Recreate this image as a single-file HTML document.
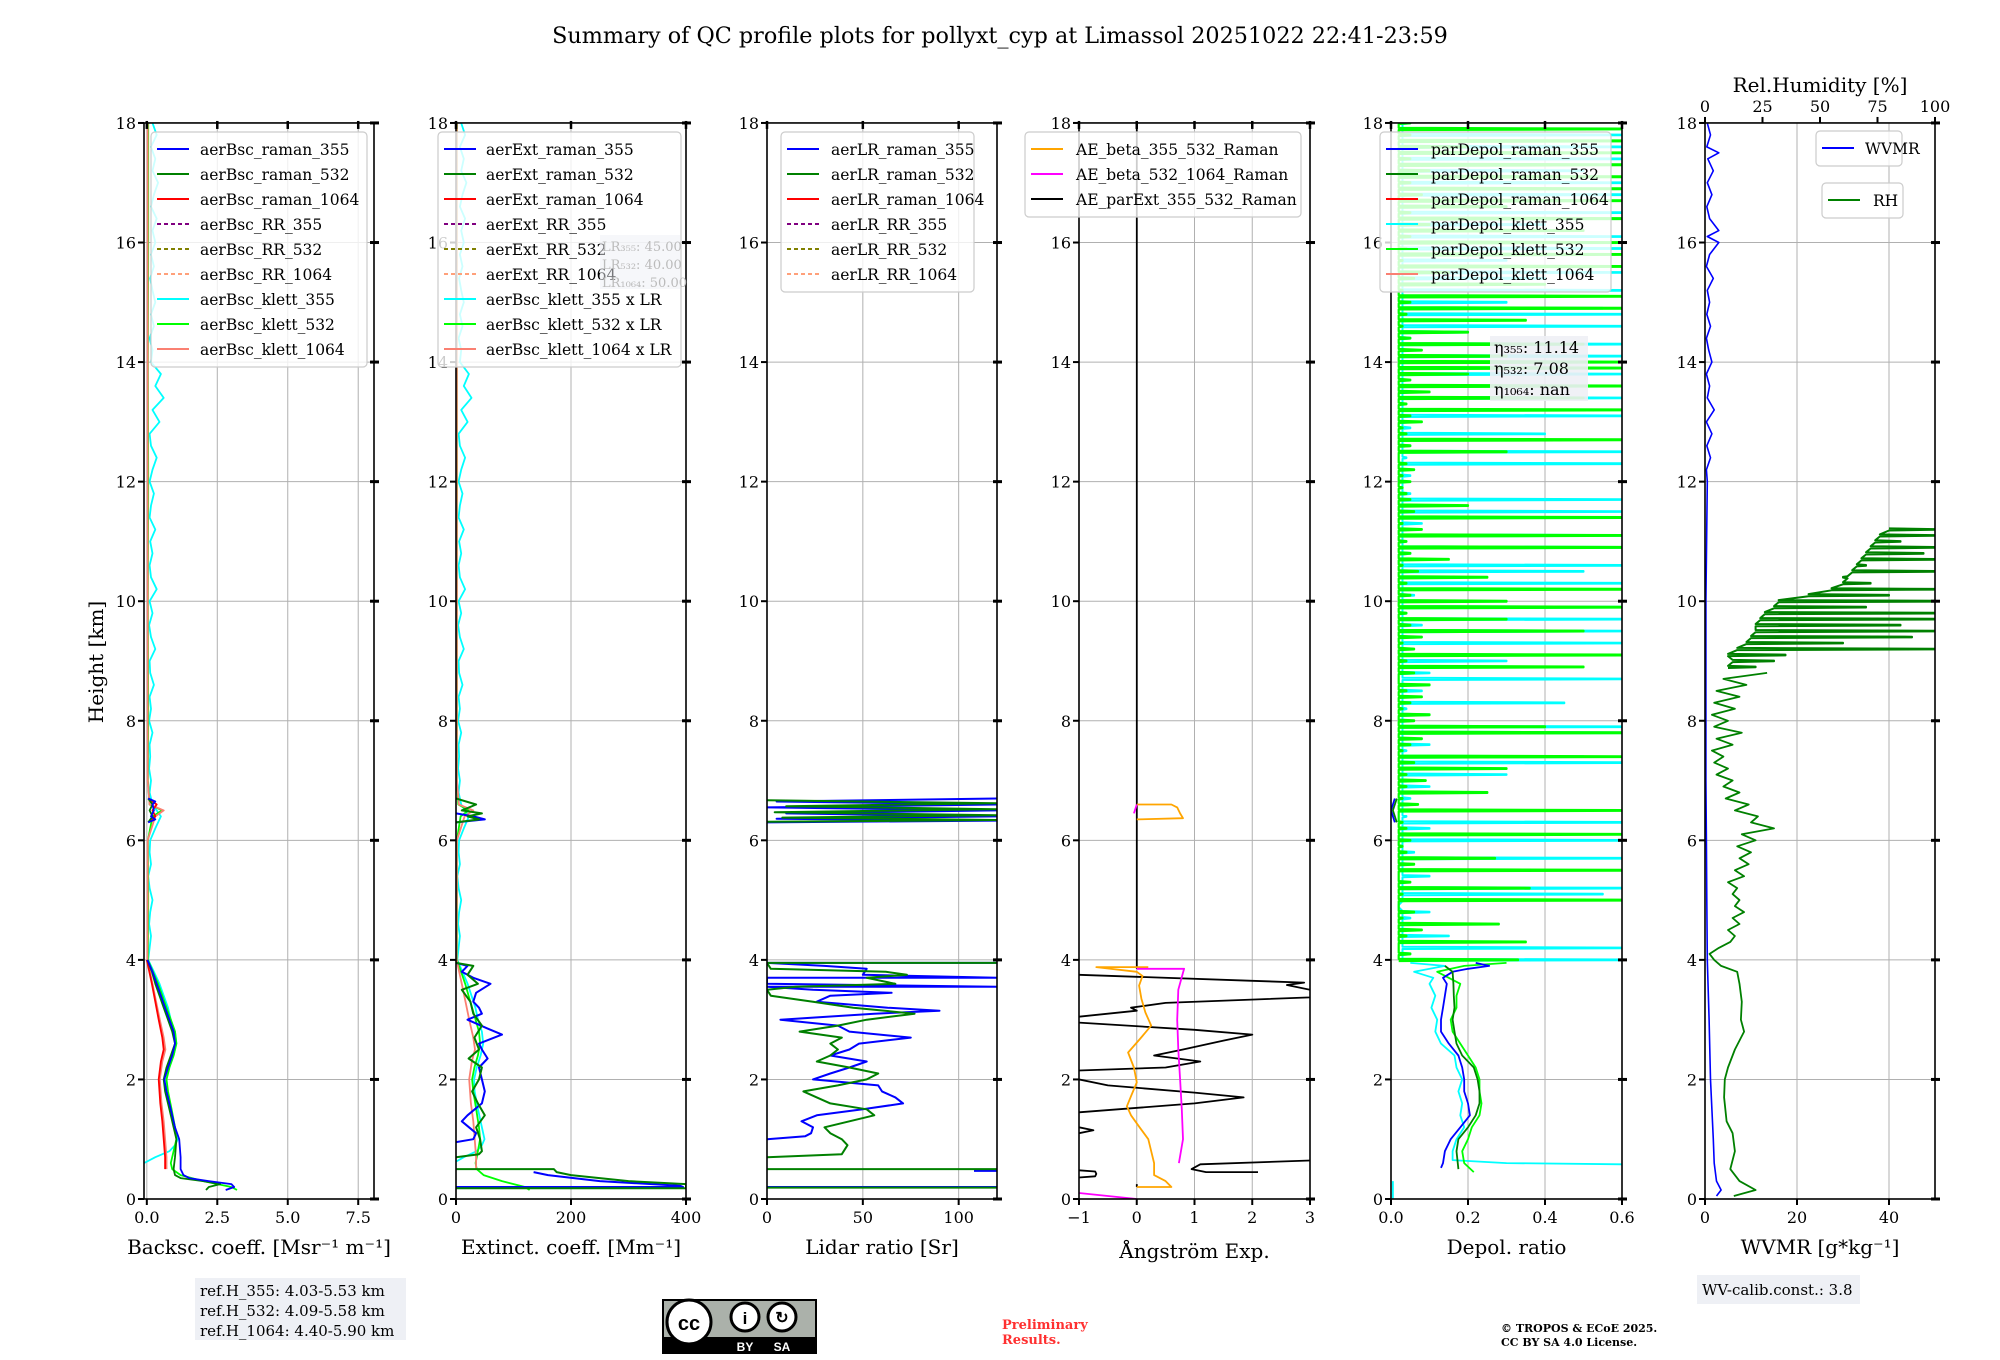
<!DOCTYPE html>
<html><head><meta charset="utf-8"><title>QC profile plots</title>
<style>
html,body{margin:0;padding:0;background:#fff;}
svg{display:block;font-family:"DejaVu Serif","Liberation Serif",serif;}
</style></head>
<body>
<svg id="chart" width="2000" height="1360" viewBox="0 0 2000 1360" xmlns="http://www.w3.org/2000/svg">
<rect x="0" y="0" width="2000" height="1360" fill="#fff"/>
<text x="1000" y="43" font-size="22.3" text-anchor="middle">Summary of QC profile plots for pollyxt_cyp at Limassol 20251022 22:41-23:59</text>
<text x="103" y="662" font-size="20" text-anchor="middle" transform="rotate(-90 103 662)">Height [km]</text>
<g id="plots"></g>
<rect x="195" y="1278" width="211" height="62" fill="#eef0f5"/>
<text x="200" y="1296" font-size="15">ref.H_355: 4.03-5.53 km</text>
<text x="200" y="1316" font-size="15">ref.H_532: 4.09-5.58 km</text>
<text x="200" y="1336" font-size="15">ref.H_1064: 4.40-5.90 km</text>
<rect x="1697" y="1275" width="163" height="29" fill="#eef0f5"/>
<text x="1702" y="1295" font-size="15">WV-calib.const.: 3.8</text>
<g>
<rect x="662" y="1299" width="155" height="55" fill="#000"/>
<rect x="664" y="1301" width="151" height="36" fill="#abb1aa"/>
<circle cx="689" cy="1322" r="22" fill="#fff" stroke="#000" stroke-width="3"/>
<text x="689" y="1330" font-size="20" font-weight="bold" text-anchor="middle" font-family="Liberation Sans, sans-serif">cc</text>
<circle cx="745" cy="1317" r="14" fill="#fff" stroke="#000" stroke-width="3"/>
<text x="745" y="1324" font-size="17" font-weight="bold" text-anchor="middle" font-family="Liberation Sans, sans-serif">i</text>
<circle cx="782" cy="1317" r="14" fill="#fff" stroke="#000" stroke-width="3"/>
<text x="782" y="1323" font-size="16" font-weight="bold" text-anchor="middle" font-family="Liberation Sans, sans-serif">↻</text>
<text x="745" y="1351" font-size="12" font-weight="bold" fill="#fff" text-anchor="middle" font-family="Liberation Sans, sans-serif">BY</text>
<text x="782" y="1351" font-size="12" font-weight="bold" fill="#fff" text-anchor="middle" font-family="Liberation Sans, sans-serif">SA</text>
</g>
<text x="1002" y="1329" font-size="13" font-weight="bold" fill="#ff3030">Preliminary</text>
<text x="1002" y="1344" font-size="13" font-weight="bold" fill="#ff3030">Results.</text>
<text x="1501" y="1332" font-size="11" font-weight="bold">© TROPOS &amp; ECoE 2025.</text>
<text x="1501" y="1346" font-size="11" font-weight="bold">CC BY SA 4.0 License.</text>
</svg>
<script>
// ---------- DATA ----------
const yTicks=[0,2,4,6,8,10,12,14,16,18];
const bscTicks=[0,2.5,5,7.5], bscTickLabels=["0.0","2.5","5.0","7.5"];
const extTicks=[0,200,400], extTickLabels=["0","200","400"];
const lrTicks=[0,50,100], lrTickLabels=["0","50","100"];
const aeTicks=[-1,0,1,2,3], aeTickLabels=["\u22121","0","1","2","3"];
const dpTicks=[0,0.2,0.4,0.6], dpTickLabels=["0.0","0.2","0.4","0.6"];
const wvTicks=[0,20,40], wvTickLabels=["0","20","40"];
const rhTicks=[0,25,50,75,100], rhTickLabels=["0","25","50","75","100"];
const lrConst355=45, lrConst532=40, lrConst1064=50;

const bscR355H=[0.15,0.2,0.25,0.3,0.35,0.4,0.5,0.7,1.0,1.2,1.5,1.8,2.0,2.2,2.4,2.6,2.8,3.0,3.2,3.4,3.6,3.8,4.0,null,6.3,6.35,6.4,6.5,6.6,6.65,6.7];
const bscR355V=[2.8,3.1,3.0,2.2,1.5,1.3,1.2,1.2,1.15,1.0,0.85,0.7,0.62,0.75,0.9,1.0,0.95,0.8,0.65,0.5,0.35,0.2,0.02,null,0.05,0.3,0.15,0.25,0.2,0.3,0.05];
const bscR532H=[0.15,0.2,0.25,0.3,0.35,0.4,0.5,0.7,1.0,1.2,1.5,1.8,2.0,2.2,2.4,2.6,2.8,3.0,3.2,3.4,3.6,3.8,4.0,null,6.3,6.4,6.5,6.6,6.7];
const bscR532V=[2.1,2.2,2.6,2.0,1.2,1.0,0.95,1.0,1.05,0.95,0.8,0.65,0.6,0.7,0.85,1.0,0.9,0.75,0.6,0.45,0.3,0.18,0.02,null,0.05,0.2,0.1,0.2,0.05];
const bscR1064H=[0.5,0.7,1.0,1.3,1.6,2.0,2.3,2.5,2.7,3.0,3.3,3.6,4.0,null,6.3,6.4,6.5,6.6,6.7];
const bscR1064V=[0.65,0.65,0.6,0.55,0.48,0.42,0.5,0.6,0.55,0.42,0.3,0.18,0.0,null,0.05,0.3,0.2,0.35,0.05];
const bscK355H=[0.6,0.7,0.8,0.9,1.0,1.2,1.5,1.8,2.0,2.2,2.4,2.6,2.8,3.0,3.2,3.4,3.6,3.8,4.0,4.2,4.4,4.6,4.8,5.0,5.2,5.4,5.6,5.8,6.0,6.2,6.4,6.6,6.8,7.0,7.2,7.4,7.6,7.8,8.0,8.2,8.4,8.6,8.8,9.0,9.2,9.4,9.6,9.8,10.0,10.2,10.4,10.6,10.8,11.0,11.2,11.4,11.6,11.8,12.0,12.2,12.4,12.6,12.8,13.0,13.2,13.4,13.6,13.8,14.0,14.2,14.4,14.6,14.8,15.0,15.2,15.4,15.6,15.8,16.0,16.2,16.4,16.6,16.8,17.0,17.2,17.4,17.6,17.8,18.0];
const bscK355V=[-0.1,0.3,0.8,1.0,1.1,1.0,0.85,0.72,0.7,0.8,0.95,1.05,1.0,0.85,0.75,0.6,0.45,0.25,0.05,
0.1,0.15,0.08,0.12,0.2,0.1,0.05,0.15,0.1,0.12,
0.3,0.5,0.2,0.1,0.15,0.08,0.12,0.1,0.2,0.08,
0.15,0.1,0.25,0.12,0.1,0.3,0.15,0.08,0.2,0.1,
0.35,0.15,0.1,0.2,0.12,0.3,0.1,0.15,0.25,0.1,
0.2,0.35,0.15,0.1,0.45,0.2,0.6,0.3,0.5,0.15,
0.2,0.1,0.25,0.15,0.3,0.2,0.12,0.25,0.15,0.3,
0.2,0.35,0.15,0.25,0.4,0.2,0.3,0.15,0.35,0.2];
const bscK532H=[0.15,0.2,0.3,0.4,0.5,0.6,0.8,1.0,1.2,1.5,1.8,2.0,2.2,2.4,2.6,2.8,3.0,3.2,3.4,3.6,3.8,4.0,5.0,6.0,6.4,6.5,6.6,7.0,8.0,10.0,12.0,14.0,16.0,18.0];
const bscK532V=[3.2,3.0,2.0,1.2,0.9,0.85,0.95,1.05,1.0,0.88,0.75,0.7,0.8,0.95,1.05,1.0,0.85,0.7,0.55,0.4,0.22,0.04,0.05,0.04,0.2,0.55,0.1,0.04,0.05,0.04,0.05,0.04,0.05,0.05];
const bscK1064H=[0.5,0.7,1.0,1.3,1.6,2.0,2.3,2.5,2.7,3.0,3.3,3.6,4.0,5.0,6.0,6.4,6.5,6.6,7.0,10.0,14.0,18.0];
const bscK1064V=[0.7,0.7,0.65,0.6,0.52,0.46,0.55,0.66,0.6,0.46,0.33,0.2,0.02,0.03,0.03,0.3,0.6,0.1,0.03,0.03,0.03,0.03];

const extR355H=[0.2,0.2,0.22,0.3,0.4,0.45,null,0.95,1.0,1.1,1.3,1.4,1.6,1.8,2.0,2.2,2.35,2.5,2.6,2.75,2.85,3.0,3.1,3.2,3.3,3.45,3.6,3.7,3.8,3.9,3.95,null,6.3,6.35,6.4,6.45];
const extR355V=[0,395,390,250,160,135,null,0,30,35,10,20,45,50,45,40,55,45,40,80,55,20,45,40,30,35,60,30,10,20,0,null,0,50,30,0];
const extR532H=[0.18,0.18,0.25,0.3,0.4,0.45,0.5,0.5,null,0.7,0.75,0.8,1.0,1.2,1.4,1.6,1.8,2.0,2.2,2.35,2.5,2.7,2.9,3.1,3.3,3.5,3.6,3.75,3.9,3.95,null,6.3,6.35,6.4,6.45,6.5,6.6,6.7];
const extR532V=[0,400,400,300,200,175,170,0,null,0,40,45,42,35,50,38,28,40,45,22,40,32,45,30,25,10,38,20,30,0,null,0,40,20,45,10,35,0];

const lrR355H=[0.2,0.2,null,0.47,0.47,null,1.0,1.05,1.1,1.2,1.3,1.4,1.5,1.6,1.7,1.8,1.9,2.0,2.1,2.2,2.3,2.4,2.5,2.6,2.7,2.8,2.9,3.0,3.1,3.15,3.2,3.3,3.4,3.45,3.5,3.55,3.55,3.6,3.7,3.7,3.75,3.85,3.9,3.95,3.95,null,6.3,6.33,6.36,6.4,6.45,6.5,6.55,6.6,6.65,6.7];
const lrR355V=[0,120,null,108,120,null,0,20,23,24,18,26,50,71,67,60,58,24,33,43,52,33,43,48,75,43,37,7,56,90,63,26,33,65,24,0,120,0,0,120,50,52,30,0,120,null,0,120,5,120,10,120,0,120,5,120];
const lrR532H=[0.19,0.19,null,0.5,0.5,null,0.7,0.75,0.8,0.9,1.0,1.1,1.2,1.3,1.4,1.5,1.6,1.7,1.8,1.9,2.0,2.1,2.2,2.3,2.4,2.5,2.6,2.7,2.8,2.9,3.0,3.1,3.2,3.3,3.4,3.5,3.55,3.6,3.7,3.75,3.8,3.85,3.95,3.95,null,6.31,6.34,6.38,6.42,6.47,6.52,6.57,6.62,6.67];
const lrR532V=[0,120,null,0,120,null,0,39,40,42,39,33,30,43,56,52,33,26,19,37,52,58,43,26,33,37,33,39,17,37,52,77,45,24,2,0,15,67,52,73,62,2,0,120,null,0,120,8,120,4,120,10,120,0];

const aeB1H=[0.2,0.2,0.3,0.4,0.6,0.8,1.0,1.2,1.4,1.55,1.72,1.95,2.2,2.45,2.67,2.9,3.12,3.35,3.57,3.73,3.8,3.88,3.88,null,6.35,6.37,6.45,6.55,6.6,6.6];
const aeB1V=[0,0.6,0.5,0.3,0.3,0.25,0.2,0.05,-0.1,-0.17,-0.1,0,-0.05,-0.15,0.05,0.25,0.15,0.08,0.04,0.1,0.0,-0.7,0.2,null,0,0.8,0.75,0.7,0.6,0];
const aeB2H=[0.0,0.1,null,0.6,1.0,1.5,2.0,2.5,3.0,3.5,3.85,3.85,null,6.45,6.6];
const aeB2V=[0,-1,null,0.73,0.8,0.78,0.75,0.72,0.7,0.72,0.82,0,null,-0.05,0];
const aeEH=[0.36,0.38,0.42,0.46,0.48,null,0.45,0.45,0.5,0.58,0.65,null,1.1,1.15,1.2,null,1.45,1.6,1.7,1.78,1.9,2.0,null,2.15,2.2,2.3,2.4,2.5,2.65,2.75,2.83,2.95,null,3.05,3.15,3.2,3.28,3.38,3.5,3.58,3.62,3.65,3.75,null,3.85,18,null,0.2,0.25];
const aeEV=[-1,-0.72,-0.7,-0.72,-1,null,2.1,1.2,0.95,1.1,3.2,null,-1,-0.75,-1,null,-1,1.0,1.85,1.0,-0.5,-1,null,-1,0.5,1.1,0.3,0.8,1.5,2.0,1.0,-1,null,-1,0,-0.1,0.5,3.2,3.0,2.6,2.9,2.0,-1,null,0,0,null,0,0];

const dpHiStart=4.0, dpHiStep=0.1;
const dpK532Hi=[0.33,0.05,0.02,0.35,0.04,0.08,0.28,0.03,0.06,0.02,
0.6,0.03,0.36,0.05,0.02,0.6,0.06,0.27,0.04,0.03,
0.05,0.6,0.04,0.03,0.02,0.6,0.07,0.03,0.25,0.04,
0.09,0.04,0.3,0.06,0.6,0.03,0.05,0.08,0.6,0.4,
0.06,0.1,0.03,0.05,0.08,0.04,0.1,0.02,0.06,0.5,
0.04,0.6,0.06,0.03,0.08,0.5,0.05,0.3,0.04,0.6,
0.3,0.05,0.6,0.04,0.25,0.07,0.03,0.15,0.05,0.6,
0.04,0.6,0.08,0.03,0.6,0.06,0.2,0.05,0.04,0.03,
0.05,0.03,0.06,0.04,0.02,0.3,0.05,0.6,0.04,0.03,
0.08,0.05,0.6,0.04,0.5,0.1,0.6,0.05,0.2,0.6,
0.6,0.3,0.08,0.5,0.05,0.2,0.03,0.35,0.04,0.6,
0.05,0.6,0.03,0.4,0.06,0.15,0.6,0.03,0.6,0.04,
0.6,0.05,0.5,0.1,0.6,0.05,0.3,0.6,0.08,0.6,
0.05,0.6,0.1,0.6,0.05,0.6,0.2,0.6,0.05,0.6,0.05];
const dpK355Hi=[0.6,0.05,0.6,0.04,0.15,0.03,0.07,0.05,0.1,0.02,
0.05,0.55,0.6,0.04,0.1,0.03,0.05,0.6,0.06,0.03,
0.6,0.07,0.1,0.6,0.04,0.03,0.06,0.05,0.04,0.1,
0.05,0.3,0.07,0.6,0.5,0.04,0.1,0.03,0.6,0.6,
0.05,0.1,0.04,0.45,0.03,0.08,0.05,0.6,0.1,0.04,
0.3,0.35,0.04,0.6,0.05,0.6,0.08,0.6,0.04,0.6,
0.05,0.06,0.1,0.6,0.03,0.5,0.6,0.04,0.05,0.6,
0.03,0.6,0.05,0.08,0.04,0.6,0.1,0.6,0.05,0.03,
0.04,0.05,0.03,0.6,0.04,0.6,0.05,0.03,0.4,0.05,
0.05,0.6,0.08,0.03,0.6,0.05,0.3,0.04,0.6,0.05,
0.05,0.6,0.04,0.6,0.05,0.2,0.6,0.05,0.6,0.55,
0.3,0.05,0.6,0.04,0.4,0.6,0.05,0.3,0.1,0.6,
0.05,0.6,0.1,0.4,0.05,0.6,0.3,0.05,0.6,0.2,
0.6,0.1,0.5,0.05,0.6,0.3,0.6,0.05,0.6,0.2,0.05];
const dpK355LoH=[0.0,0.3,null,0.56,0.58,0.6,0.65,0.8,1.0,1.2,1.4,1.6,1.8,2.0,2.2,2.4,2.6,2.8,3.0,3.2,3.4,3.6,3.7,3.8,3.9,3.95];
const dpK355LoV=[0.005,0.005,null,0.6,0.6,0.3,0.16,0.16,0.17,0.19,0.18,0.185,0.175,0.185,0.17,0.165,0.13,0.115,0.12,0.105,0.115,0.1,0.11,0.06,0.14,0.05];
const dpK532LoH=[0.45,0.6,0.8,1.0,1.2,1.4,1.6,1.8,2.0,2.2,2.4,2.6,2.8,3.0,3.2,3.4,3.6,3.8,3.9,3.95];
const dpK532LoV=[0.215,0.19,0.185,0.2,0.21,0.23,0.235,0.23,0.23,0.22,0.2,0.18,0.16,0.155,0.17,0.17,0.18,0.12,0.19,0.3];
const dpR355H=[0.52,0.6,0.8,1.0,1.2,1.4,1.6,1.8,2.0,2.2,2.4,2.6,2.8,3.0,3.2,3.4,3.6,3.7,3.8,3.85,3.9,3.95,null,6.3,6.5,6.7];
const dpR355V=[0.13,0.135,0.14,0.155,0.18,0.205,0.2,0.19,0.19,0.185,0.175,0.15,0.13,0.13,0.135,0.14,0.145,0.135,0.16,0.2,0.255,0.22,null,0.01,0.0,0.01];
const dpR532H=[0.5,0.8,1.0,1.2,1.4,1.6,1.8,2.0,2.2,2.4,2.6,2.8,3.0,3.2,3.4,3.6,3.8,3.9,null,6.3,6.5,6.7];
const dpR532V=[0.175,0.17,0.175,0.2,0.22,0.23,0.23,0.225,0.215,0.185,0.17,0.165,0.16,0.165,0.163,0.162,0.16,0.14,null,0.015,0.005,0.015];

const wvH=[0.05,0.15,0.3,0.6,1.0,1.5,2.0,3.0,4.0,5.0,6.0,7.0,8.0,10.0,12.0,12.2,12.4,12.6,12.8,13.0,13.2,13.4,13.6,13.8,14.0,14.2,14.4,14.6,14.8,15.0,15.2,15.4,15.6,15.8,16.0,16.1,16.2,16.4,16.6,16.8,17.0,17.2,17.4,17.5,17.6,17.8,18.0];
const wvV=[2.5,3.5,2.5,2.0,1.8,1.5,1.2,0.9,0.5,0.4,0.3,0.2,0.2,0.2,0.5,0.3,1.2,0.4,1.5,0.3,2.0,0.5,1.0,0.3,1.5,0.8,0.3,1.2,0.4,1.0,0.5,1.8,0.3,1.0,3.0,0.5,3.0,1.0,0.4,1.5,0.5,1.8,0.6,3.0,0.4,1.2,0.5];
const rhH=[0.05,0.15,0.3,0.5,0.8,1.1,1.3,1.7,2.0,2.2,2.5,2.8,3.0,3.3,3.6,3.8,3.9,4.0,4.1,4.2,4.3,4.4,4.5,4.6,4.7,4.8,4.9,5.0,5.1,5.2,5.3,5.4,5.5,5.6,5.7,5.8,5.9,6.0,6.1,6.2,6.3,6.4,6.5,6.6,6.7,6.8,6.9,7.0,7.1,7.2,7.3,7.4,7.5,7.6,7.7,7.8,7.9,8.0,8.1,8.2,8.3,8.4,8.5,8.6,8.7,8.8];
const rhV=[12.5,22,15,11,13,12,9.4,8.3,8.6,10,13,17,15.6,16,15,14,7,4,2,6,11,13,10,15,12,17,13,15,12,14,10,17,13,19,15,20,14,22,16,30,20,23,13,19,9,15,8,12,5,10,4,8,3,12,5,16,4,10,3,13,4,15,5,18,8,27];
const rhUpH=[8.9,9.0,9.1,9.2,9.3,9.4,9.5,9.6,9.7,9.8,9.9,10.0,10.1,10.2,10.3,10.4,10.5,10.6,10.7,10.8,10.9,11.0,11.1,11.2];
const rhUpBase=[10,12,10,14,18,20,22,22,24,26,30,32,45,55,60,62,64,66,68,70,72,74,76,80];
const rhUpV=[22,30,35,100,60,90,100,85,100,100,70,100,80,100,72,60,100,70,100,95,100,85,100,100];

// ---------- DRAWING ----------
const NS="http://www.w3.org/2000/svg";
const root=document.getElementById('plots');
const Y0=1199, KM=59.78;
function Y(h){return Y0-h*KM;}
const panels=[
 {id:'bsc',L:144,R:374,a:-0.1,b:8.06,ticks:bscTicks,labels:bscTickLabels,title:'Backsc. coeff. [Msr\u207B\u00B9 m\u207B\u00B9]'},
 {id:'ext',L:456,R:686,a:0,b:400,ticks:extTicks,labels:extTickLabels,title:'Extinct. coeff. [Mm\u207B\u00B9]'},
 {id:'lr',L:767,R:997,a:0,b:120,ticks:lrTicks,labels:lrTickLabels,title:'Lidar ratio [Sr]'},
 {id:'ae',L:1079,R:1310,a:-1,b:3,ticks:aeTicks,labels:aeTickLabels,title:'\u00C5ngstr\u00F6m Exp.'},
 {id:'dp',L:1391,R:1622,a:0,b:0.6,ticks:dpTicks,labels:dpTickLabels,title:'Depol. ratio'},
 {id:'wv',L:1705,R:1935,a:0,b:50,ticks:wvTicks,labels:wvTickLabels,title:'WVMR [g*kg\u207B\u00B9]'}
];
function X(p,v){return p.L+(v-p.a)/(p.b-p.a)*(p.R-p.L);}
function mk(tag,attrs,parent){const e=document.createElementNS(NS,tag);for(const k in attrs)e.setAttribute(k,attrs[k]);(parent||root).appendChild(e);return e;}

const defs=mk('defs',{});
panels.forEach(p=>{
 const cp=mk('clipPath',{id:'clip-'+p.id},defs);
 mk('rect',{x:p.L,y:Y(18),width:p.R-p.L,height:Y(0)-Y(18)},cp);
});

function series(p,hs,vs,color,w,name,dash){
 let d='',pen=false;
 for(let i=0;i<hs.length;i++){
  if(hs[i]===null||vs[i]===null){pen=false;continue;}
  d+=(pen?'L':'M')+X(p,vs[i]).toFixed(1)+' '+Y(hs[i]).toFixed(1);
  pen=true;
 }
 const el=mk('path',{d:d,fill:'none',stroke:color,'stroke-width':w||1.8,'clip-path':'url(#clip-'+p.id+')','stroke-linejoin':'round'});
 if(dash)el.setAttribute('stroke-dasharray',dash);
 
 
 return el;
}
// spiky profile: each sample rises from its base value to its peak as a thin horizontal spike
function spikes(p,hs,vs,bases,color,w,name){
 const half=0.018;
 let d='';
 for(let i=0;i<hs.length;i++){
  const b=bases[i];
  d+=(i===0?'M':'L')+X(p,b).toFixed(1)+' '+Y(hs[i]-half).toFixed(1);
  d+='L'+X(p,vs[i]).toFixed(1)+' '+Y(hs[i]-half/3).toFixed(1);
  d+='L'+X(p,vs[i]).toFixed(1)+' '+Y(hs[i]+half/3).toFixed(1);
  d+='L'+X(p,b).toFixed(1)+' '+Y(hs[i]+half).toFixed(1);
 }
 const el=mk('path',{d:d,fill:'none',stroke:color,'stroke-width':w,'clip-path':'url(#clip-'+p.id+')','stroke-linejoin':'round'});
 
 
 return el;
}
function hiHeights(n){const h=[];for(let i=0;i<n;i++)h.push(dpHiStart+i*dpHiStep);return h;}

panels.forEach(p=>{
 const g=mk('g',{});
 
 
 p.ticks.forEach(t=>{
  const gl=mk('line',{x1:X(p,t),x2:X(p,t),y1:Y(18),y2:Y(0),stroke:'#b0b0b0','stroke-width':1},g);
  
  
 });
 yTicks.forEach(t=>{
  const gl=mk('line',{x1:p.L,x2:p.R,y1:Y(t),y2:Y(t),stroke:'#b0b0b0','stroke-width':1},g);
  
  
 });
});

const P1=panels[0];
series(P1,bscK355H,bscK355V,'#00ffff',1.8,'bsc-klett-355-line');
series(P1,bscK532H,bscK532V,'#00ff00',1.8,'bsc-klett-532-line');
series(P1,bscK1064H,bscK1064V,'#fa8072',1.8,'bsc-klett-1064-line');
series(P1,bscR1064H,bscR1064V,'#ff0000',1.8,'bsc-raman-1064-line');
series(P1,bscR532H,bscR532V,'#008000',1.8,'bsc-raman-532-line');
series(P1,bscR355H,bscR355V,'#0000ff',1.8,'bsc-raman-355-line');

const P2=panels[1];
series(P2,bscK355H,bscK355V.map(v=>v===null?null:v*lrConst355),'#00ffff',1.8,'ext-klett-355-line');
series(P2,bscK532H,bscK532V.map(v=>v===null?null:v*lrConst532),'#00ff00',1.8,'ext-klett-532-line');
series(P2,bscK1064H,bscK1064V.map(v=>v===null?null:v*lrConst1064),'#fa8072',1.8,'ext-klett-1064-line');
series(P2,extR355H,extR355V,'#0000ff',2,'ext-raman-355-line');
series(P2,extR532H,extR532V,'#008000',2,'ext-raman-532-line');

const P3=panels[2];
series(P3,lrR355H,lrR355V,'#0000ff',2,'lr-raman-355-line');
series(P3,lrR532H,lrR532V,'#008000',2,'lr-raman-532-line');

const P4=panels[3];
series(P4,aeEH,aeEV,'#000000',1.8,'ae-parext-355-532-line');
series(P4,aeB1H,aeB1V,'#ffa500',1.8,'ae-beta-355-532-line');
series(P4,aeB2H,aeB2V,'#ff00ff',1.8,'ae-beta-532-1064-line');

const P5=panels[4];
const h355=hiHeights(dpK355Hi.length), h532=hiHeights(dpK532Hi.length);
spikes(P5,h355,dpK355Hi,dpK355Hi.map(v=>Math.min(v,0.03)),'#00ffff',2,'depol-klett-355-upper-line');
spikes(P5,h532,dpK532Hi,dpK532Hi.map(v=>Math.min(v,0.02)),'#00ff00',2.2,'depol-klett-532-upper-line');
series(P5,dpK355LoH,dpK355LoV,'#00ffff',1.8,'depol-klett-355-line');
series(P5,dpK532LoH,dpK532LoV,'#00ff00',1.8,'depol-klett-532-line');
series(P5,dpR355H,dpR355V,'#0000ff',1.8,'depol-raman-355-line');
series(P5,dpR532H,dpR532V,'#008000',1.8,'depol-raman-532-line');

const P6=panels[5];
const P6rh={id:'wv',L:P6.L,R:P6.R,a:0,b:100};
series(P6rh,rhH,rhV,'#008000',1.8,'rh-line');
spikes(P6rh,rhUpH,rhUpV,rhUpBase,'#008000',2,'rh-upper-line');
series(P6,wvH,wvV,'#0000ff',1.6,'wvmr-line');

panels.forEach(p=>{
 const fr=mk('rect',{x:p.L,y:Y(18),width:p.R-p.L,height:Y(0)-Y(18),fill:'none',stroke:'#000','stroke-width':1.6});
 
 
 yTicks.forEach(t=>{
  const tk=mk('line',{x1:p.L-6,x2:p.L,y1:Y(t),y2:Y(t),stroke:'#000','stroke-width':2});
  
  
  const tr=mk('line',{x1:p.R-4,x2:p.R+5,y1:Y(t),y2:Y(t),stroke:'#000','stroke-width':3});
  
  
  const tl=mk('text',{x:p.L-8,y:Y(t)+6,'font-size':16,'text-anchor':'end'});
  tl.textContent=String(t);
  
  
 });
 if(p.id!=='wv'){
  p.ticks.forEach(t=>{
   const tt=mk('line',{x1:X(p,t),x2:X(p,t),y1:Y(18)-2,y2:Y(18)+6,stroke:'#000','stroke-width':2.5});
   
   
  });
 }
 p.ticks.forEach((t,i)=>{
  const tk=mk('line',{x1:X(p,t),x2:X(p,t),y1:Y(0),y2:Y(0)+6,stroke:'#000','stroke-width':2});
  
  
  const tl=mk('text',{x:X(p,t),y:Y(0)+24,'font-size':16,'text-anchor':'middle'});
  tl.textContent=p.labels[i];
  
  
 });
 const xt=mk('text',{x:(p.L+p.R)/2,y:Y(0)+55+(p.id==='ae'?4:0),'font-size':20,'text-anchor':'middle'});
 xt.textContent=p.title;
 
 
});
rhTicks.forEach((t,i)=>{
 const xx=X(P6rh,t);
 const tk=mk('line',{x1:xx,x2:xx,y1:Y(18)-6,y2:Y(18),stroke:'#000','stroke-width':2});
 
 
 const tl=mk('text',{x:xx,y:Y(18)-11,'font-size':16,'text-anchor':'middle'});
 tl.textContent=rhTickLabels[i];
 
 
});
const rht=mk('text',{x:(P6.L+P6.R)/2,y:92,'font-size':20,'text-anchor':'middle'});
rht.textContent='Rel.Humidity [%]';



function legend(name,x,y,w,rows,textX){
 const h=rows.length*25+10;
 const box=mk('rect',{x:x,y:y,width:w,height:h,rx:4,fill:'#fff','fill-opacity':0.8,stroke:'#cccccc','stroke-width':1.2});
 
 
 rows.forEach((r,i)=>{
  const cy=y+17+i*25;
  const ln=mk('line',{x1:x+6,x2:x+38,y1:cy,y2:cy,stroke:r[1],'stroke-width':2});
  if(r[2])ln.setAttribute('stroke-dasharray','4,3');
  
  
  const t=mk('text',{x:textX,y:cy+6,'font-size':15.5});
  t.textContent=r[0];
  
  
 });
}
legend('bsc-legend',151,132,216,[['aerBsc_raman_355','#0000ff'],['aerBsc_raman_532','#008000'],['aerBsc_raman_1064','#ff0000'],['aerBsc_RR_355','#800080',1],['aerBsc_RR_532','#808000',1],['aerBsc_RR_1064','#ffa07a',1],['aerBsc_klett_355','#00ffff'],['aerBsc_klett_532','#00ff00'],['aerBsc_klett_1064','#fa8072']],200);
legend('ext-legend',438,132,243,[['aerExt_raman_355','#0000ff'],['aerExt_raman_532','#008000'],['aerExt_raman_1064','#ff0000'],['aerExt_RR_355','#800080',1],['aerExt_RR_532','#808000',1],['aerExt_RR_1064','#ffa07a',1],['aerBsc_klett_355 x LR','#00ffff'],['aerBsc_klett_532 x LR','#00ff00'],['aerBsc_klett_1064 x LR','#fa8072']],486);
legend('lr-legend',781,132,193,[['aerLR_raman_355','#0000ff'],['aerLR_raman_532','#008000'],['aerLR_raman_1064','#ff0000'],['aerLR_RR_355','#800080',1],['aerLR_RR_532','#808000',1],['aerLR_RR_1064','#ffa07a',1]],831);
legend('ae-legend',1025,132,276,[['AE_beta_355_532_Raman','#ffa500'],['AE_beta_532_1064_Raman','#ff00ff'],['AE_parExt_355_532_Raman','#000000']],1076);
legend('depol-legend',1380,132,231,[['parDepol_raman_355','#0000ff'],['parDepol_raman_532','#008000'],['parDepol_raman_1064','#ff0000'],['parDepol_klett_355','#00ffff'],['parDepol_klett_532','#00ff00'],['parDepol_klett_1064','#fa8072']],1431);
legend('wvmr-legend',1816,131,86,[['WVMR','#0000ff']],1865);
legend('rh-legend',1822,183,81,[['RH','#008000']],1873);

const lrb=mk('rect',{x:600,y:235,width:80,height:54,fill:'#eef0f5','fill-opacity':0.5});


[['LR\u2083\u2085\u2085: 45.00',251],['LR\u2085\u2083\u2082: 40.00',269],['LR\u2081\u2080\u2086\u2084: 50.00',287]].forEach(r=>{
 const t=mk('text',{x:602,y:r[1],'font-size':13,fill:'#bbbbbb'});
 t.textContent=r[0];
 
 
});
const eb=mk('rect',{x:1490,y:336,width:98,height:65,fill:'#eef0f5','fill-opacity':0.9});


[['\u03B7\u2083\u2085\u2085: 11.14',353],['\u03B7\u2085\u2083\u2082: 7.08',374],['\u03B7\u2081\u2080\u2086\u2084: nan',395]].forEach(r=>{
 const t=mk('text',{x:1494,y:r[1],'font-size':16});
 t.textContent=r[0];
 
 
});
</script>
</body></html>
